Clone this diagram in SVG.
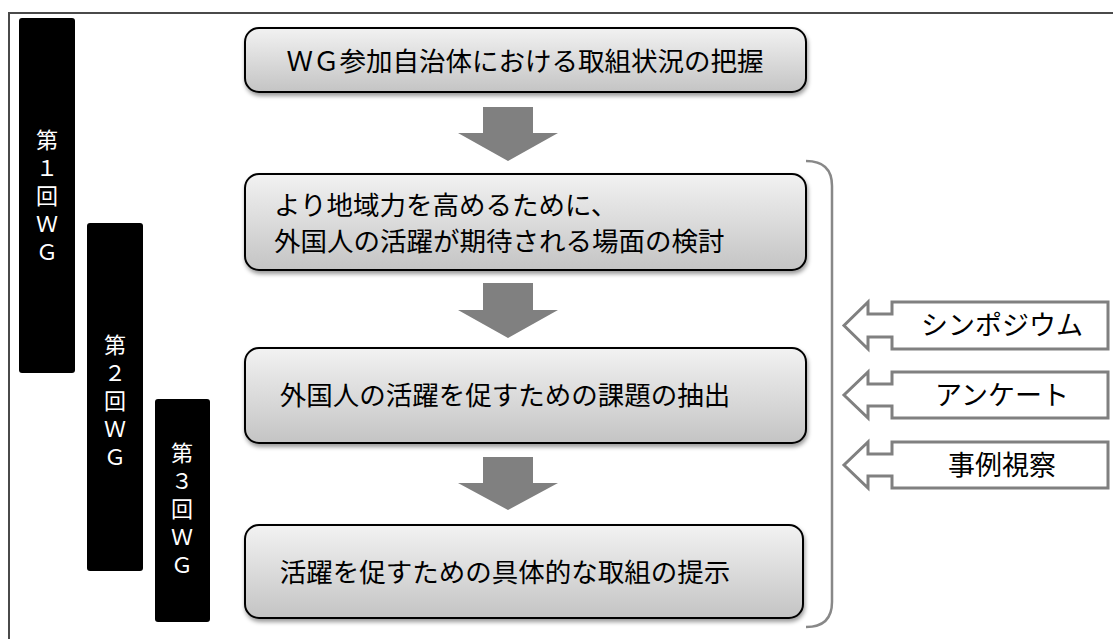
<svg xmlns="http://www.w3.org/2000/svg" width="1113" height="639" viewBox="0 0 1113 639">
<style>
text{font-family:"Noto Sans CJK JP","Noto Sans CJK SC",sans-serif;}
.box{fill:url(#g);stroke:#000;stroke-width:2;filter:url(#sh);}
.bt{font-size:26.5px;fill:#000;}
.bar{fill:#000;}
.vt{font-size:22px;fill:#fff;writing-mode:vertical-rl;text-orientation:upright;letter-spacing:6px;}
.arr{fill:#808080;}
.co{fill:#fff;stroke:#808080;stroke-width:3;}
.ct{font-size:27px;fill:#000;text-anchor:middle;}
</style>
<defs>
<linearGradient id="g" x1="0" y1="0" x2="0" y2="1">
<stop offset="0" stop-color="#f2f2f2"/>
<stop offset="1" stop-color="#c4c4c4"/>
</linearGradient>
<filter id="sh" x="-5%" y="-10%" width="110%" height="130%">
<feDropShadow dx="1" dy="3" stdDeviation="2" flood-color="#000" flood-opacity="0.4"/>
</filter>
</defs>
<rect width="1113" height="639" fill="#fff"/>
<path d="M9 645 V13 H1120" fill="none" stroke="#4a4a4a" stroke-width="2"/>

<g id="wg1"><rect class="bar" x="19" y="18" width="56" height="355" rx="3"/>
<text class="vt" x="47" y="129">第１回ＷＧ</text></g>
<g id="wg2"><rect class="bar" x="87" y="223" width="56" height="348" rx="3"/>
<text class="vt" x="115" y="334">第２回ＷＧ</text></g>
<g id="wg3"><rect class="bar" x="155" y="399" width="55" height="223" rx="3"/>
<text class="vt" x="182" y="442">第３回ＷＧ</text></g>

<g id="box1"><rect class="box" x="245" y="28" width="561" height="64" rx="14"/>
<text class="bt" x="525" y="71" text-anchor="middle">ＷＧ参加自治体における取組状況の把握</text></g>
<g id="box2"><rect class="box" x="245" y="174" width="561" height="96" rx="14"/>
<text class="bt"><tspan x="274" y="215">より地域力を高めるために、</tspan><tspan x="274" y="251">外国人の活躍が期待される場面の検討</tspan></text></g>
<g id="box3"><rect class="box" x="245" y="348" width="561" height="95" rx="14"/>
<text class="bt" x="505" y="405" text-anchor="middle">外国人の活躍を促すための課題の抽出</text></g>
<g id="box4"><rect class="box" x="245" y="525" width="558" height="93" rx="14"/>
<text class="bt" x="505" y="582" text-anchor="middle">活躍を促すための具体的な取組の提示</text></g>

<g id="connectors">
<path class="arr" d="M483 107 H533 V133 H558 L508 161 L458 133 H483 Z"/>
<path class="arr" d="M483 283 H533 V310 H558 L508 338 L458 310 H483 Z"/>
<path class="arr" d="M483 457 H533 V483 H558 L508 510 L458 483 H483 Z"/>
<path d="M806 161 Q832 161 832 186 V602 Q832 627 806 627" fill="none" stroke="#888" stroke-width="2.5"/>
</g>

<g id="c1"><path class="co" d="M892 302 H1108 V349 H892 V337 H868 V349 L844 325.5 L868 302 V314 H892 Z"/>
<text class="ct" x="1002" y="335">シンポジウム</text></g>
<g id="c2"><path class="co" d="M892 372 H1108 V418 H892 V406 H868 V418 L844 395 L868 372 V384 H892 Z"/>
<text class="ct" x="1002" y="405">アンケート</text></g>
<g id="c3"><path class="co" d="M892 442 H1108 V488 H892 V476 H868 V488 L844 465 L868 442 V454 H892 Z"/>
<text class="ct" x="1002" y="475">事例視察</text></g>
</svg>
